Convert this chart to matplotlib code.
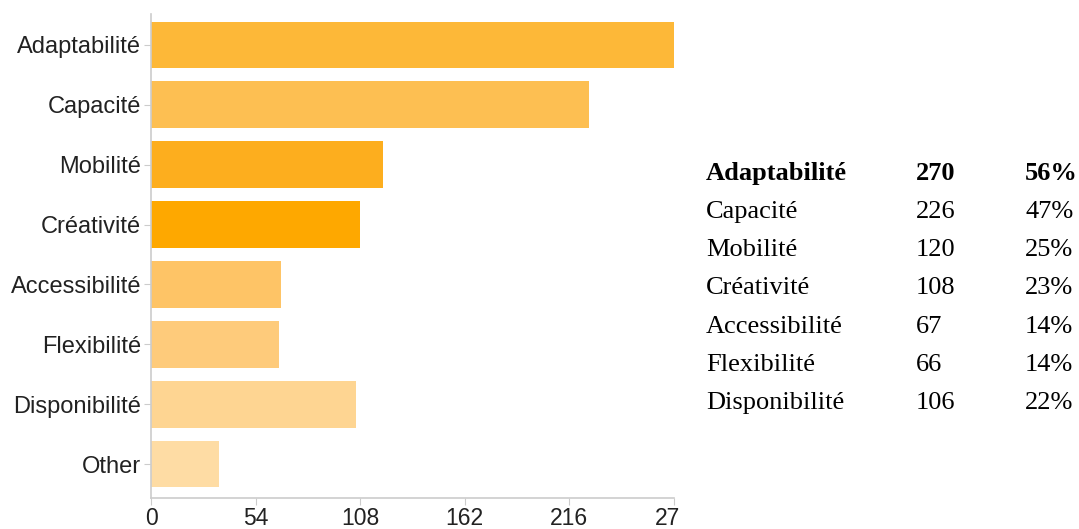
import matplotlib.pyplot as plt
from matplotlib.transforms import Bbox, TransformedBbox

labels = ['Adaptabilité', 'Capacité', 'Mobilité', 'Créativité',
          'Accessibilité', 'Flexibilité', 'Disponibilité', 'Other']
counts = [270, 226, 120, 108, 67, 66, 106, 35]
percents = ['56%', '47%', '25%', '23%', '14%', '14%', '22%']
colors = ['#fdb838', '#fdbf52', '#fdae1e', '#fea800',
          '#fec466', '#fecb7b', '#fed592', '#fedca4']
xticks = [0, 54, 108, 162, 216, 270]

plt.rcParams['font.family'] = ['Liberation Sans', 'DejaVu Sans']

fig = plt.figure(figsize=(10.79, 5.29), dpi=100)
ax = fig.add_axes([151 / 1079, 31 / 529, 523 / 1079, 484 / 529])

ypos = list(range(len(labels)))
ax.barh(ypos, counts, height=0.78, color=colors, zorder=2)
ax.set_xlim(0, 270)
ax.set_ylim(7.567, -0.517)
ax.set_yticks(ypos)
ax.set_yticklabels(labels, fontsize=17, color='#222222')
ax.set_xticks(xticks)
ax.set_xticklabels([str(t) for t in xticks], fontsize=16.5, color='#222222')

for s in ['top', 'right']:
    ax.spines[s].set_visible(False)
for s in ['left', 'bottom']:
    ax.spines[s].set_color('#cccccc')
    ax.spines[s].set_linewidth(1.2)
ax.tick_params(axis='y', length=5, color='#cccccc', pad=2)
ax.tick_params(axis='x', length=5, color='#cccccc', pad=1.5)

# clip the x tick labels at the chart edge (the "270" gets cut)
clip = TransformedBbox(Bbox([[0, 0], [679 / 1079, 1]]), fig.transFigure)
for t in ax.get_xticklabels():
    t.set_clip_box(clip)
    t.set_clip_on(True)

# summary table on the right
baselines = [180, 218, 256, 294, 333, 371, 409]
for i in range(len(percents)):
    w = 'bold' if i == 0 else 'normal'
    y = 1 - baselines[i] / 529
    for x, s in [(706, labels[i]), (916, str(counts[i])), (1025, percents[i])]:
        fig.text(x / 1079, y, s, fontsize=19, family='Liberation Serif',
                 fontweight=w, va='baseline', ha='left')

fig.savefig('out.png', dpi=100)
